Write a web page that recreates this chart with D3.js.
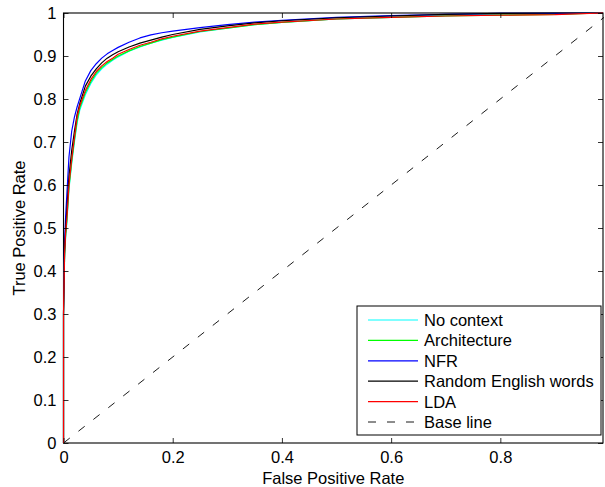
<!DOCTYPE html>
<html>
<head>
<meta charset="utf-8">
<script src="https://cdn.jsdelivr.net/npm/d3@7"></script>
<style>
  html, body { margin: 0; padding: 0; background: #fff; }
  svg { display: block; font-family: "Liberation Sans", Arial, Helvetica, sans-serif; }
</style>
</head>
<body>
<svg id="chart" width="605" height="487"></svg>
<script>
// ROC curves: shared false-positive-rate grid and true-positive rate per model
const fpr = [0, 0, 0.002, 0.004, 0.006, 0.008, 0.01, 0.015, 0.02, 0.025, 0.03, 0.04, 0.05, 0.06, 0.07,
             0.08, 0.09, 0.1, 0.12, 0.14, 0.16, 0.18, 0.2, 0.25, 0.3, 0.35, 0.4, 0.5, 0.6, 0.7, 0.8, 0.9, 0.988];

const tprNoContext = [0, 0.3, 0.43, 0.48, 0.51, 0.55, 0.59, 0.65, 0.70, 0.745, 0.775, 0.81, 0.836, 0.856, 0.87,
                      0.881, 0.89, 0.898, 0.911, 0.921, 0.93, 0.937, 0.943, 0.956, 0.965, 0.973, 0.978, 0.986, 0.99, 0.994, 0.996, 0.998, 1];
const tprArchitecture = [0, 0.3, 0.44, 0.485, 0.515, 0.555, 0.595, 0.655, 0.705, 0.75, 0.78, 0.815, 0.84, 0.86, 0.873,
                      0.884, 0.892, 0.9, 0.912, 0.922, 0.93, 0.938, 0.944, 0.957, 0.965, 0.973, 0.978, 0.986, 0.99, 0.993, 0.995, 0.997, 1];
const tprNFR = [0, 0.3, 0.47, 0.53, 0.575, 0.62, 0.665, 0.725, 0.758, 0.782, 0.802, 0.842, 0.866, 0.882, 0.895,
                      0.905, 0.913, 0.92, 0.932, 0.942, 0.949, 0.954, 0.958, 0.966, 0.973, 0.979, 0.983, 0.99, 0.994, 0.997, 0.999, 0.999, 1];
const tprRandomWords = [0, 0.3, 0.45, 0.5, 0.54, 0.58, 0.62, 0.68, 0.725, 0.765, 0.79, 0.83, 0.853, 0.87, 0.884,
                      0.895, 0.903, 0.91, 0.921, 0.93, 0.937, 0.944, 0.95, 0.962, 0.97, 0.977, 0.982, 0.989, 0.993, 0.997, 0.999, 1, 1];
const tprLDA = [0, 0.3, 0.44, 0.49, 0.52, 0.56, 0.6, 0.66, 0.71, 0.76, 0.785, 0.82, 0.845, 0.864, 0.877,
                      0.887, 0.895, 0.904, 0.915, 0.925, 0.932, 0.94, 0.946, 0.958, 0.966, 0.974, 0.979, 0.986, 0.99, 0.993, 0.995, 0.996, 1];

const seriesNames = ["No context", "Architecture", "NFR", "Random English words", "LDA"];
const seriesColors = ["#00ffff", "#00ff00", "#0000ff", "#000000", "#ff0000"];
const seriesValues = [tprNoContext, tprArchitecture, tprNFR, tprRandomWords, tprLDA];

const baselineX = [0, 1];
const baselineY = [0, 1];
const baselineName = "Base line";

const xTicks = [0, 0.2, 0.4, 0.6, 0.8];
const yTicks = [0, 0.1, 0.2, 0.3, 0.4, 0.5, 0.6, 0.7, 0.8, 0.9, 1];
const xMax = 0.988;

// layout
const plotLeft = 63.5, plotRight = 603, plotTop = 13, plotBottom = 443;
const svg = d3.select("#chart");
const x = d3.scaleLinear().domain([0, xMax]).range([plotLeft, plotRight]);
const y = d3.scaleLinear().domain([0, 1]).range([plotBottom, plotTop]);
const fontSize = 16.5;
const fmt = d => String(d);

svg.append("defs").append("clipPath").attr("id", "plot-clip")
  .append("rect").attr("x", plotLeft - 1).attr("y", plotTop - 1)
  .attr("width", plotRight - plotLeft + 2).attr("height", plotBottom - plotTop + 2);

// plot frame (drawn first so the curves sit on top of it)
svg.append("rect").attr("x", plotLeft).attr("y", plotTop)
  .attr("width", plotRight - plotLeft).attr("height", plotBottom - plotTop)
  .attr("fill", "none").attr("stroke", "#000").attr("stroke-width", 1.1);

const plot = svg.append("g").attr("clip-path", "url(#plot-clip)");

// diagonal reference line
plot.append("path")
  .datum(baselineX.map((v, i) => [v, baselineY[i]]))
  .attr("d", d3.line().x(d => x(d[0])).y(d => y(d[1])))
  .attr("fill", "none").attr("stroke", "#000").attr("stroke-width", 0.9)
  .attr("stroke-dasharray", "8,11");

// ROC curves
const line = d3.line().x(d => x(d[0])).y(d => y(d[1]));
seriesValues.forEach((vals, i) => {
  plot.append("path")
    .datum(fpr.map((f, j) => [f, vals[j]]))
    .attr("d", line)
    .attr("fill", "none")
    .attr("stroke", seriesColors[i])
    .attr("stroke-width", 1.2)
    .attr("stroke-linejoin", "round");
});

// axes with inward ticks on all four sides
const tickLen = 5;
const axB = svg.append("g").attr("transform", `translate(0,${plotBottom})`)
  .call(d3.axisBottom(x).tickValues(xTicks).tickSizeInner(-tickLen).tickSizeOuter(0).tickPadding(8).tickFormat(fmt));
const axT = svg.append("g").attr("transform", `translate(0,${plotTop})`)
  .call(d3.axisTop(x).tickValues(xTicks).tickSizeInner(-tickLen).tickSizeOuter(0).tickFormat(""));
const axL = svg.append("g").attr("transform", `translate(${plotLeft},0)`)
  .call(d3.axisLeft(y).tickValues(yTicks).tickSizeInner(-tickLen).tickSizeOuter(0).tickPadding(7).tickFormat(fmt));
const axR = svg.append("g").attr("transform", `translate(${plotRight},0)`)
  .call(d3.axisRight(y).tickValues(yTicks).tickSizeInner(-tickLen).tickSizeOuter(0).tickFormat(""));

[axB, axT, axL, axR].forEach(g => {
  g.select(".domain").remove();
  g.selectAll(".tick line").attr("stroke", "#000").attr("stroke-width", 0.8);
  g.selectAll("text").attr("font-size", fontSize).attr("fill", "#000")
    .attr("font-family", "'Liberation Sans', Arial, sans-serif");
});
axB.selectAll("text").attr("dy", "0.71em");
axL.selectAll("text").attr("dy", "0.36em");

// axis titles
svg.append("text").attr("x", (plotLeft + plotRight) / 2).attr("y", 484)
  .attr("text-anchor", "middle").attr("font-size", fontSize).text("False Positive Rate");
svg.append("text").attr("transform", `translate(25,${(plotTop + plotBottom) / 2}) rotate(-90)`)
  .attr("text-anchor", "middle").attr("font-size", fontSize).text("True Positive Rate");

// legend
const legX = 357, legY = 306, legW = 244, legH = 129;
const leg = svg.append("g");
leg.append("rect").attr("x", legX).attr("y", legY).attr("width", legW).attr("height", legH)
  .attr("fill", "#fff").attr("stroke", "#000").attr("stroke-width", 1);
const legendItems = seriesNames.map((n, i) => ({ name: n, color: seriesColors[i], dash: null }))
  .concat([{ name: baselineName, color: "#000", dash: "8,11" }]);
const rowH = 20.4, firstRow = legY + 14;
legendItems.forEach((it, i) => {
  const cy = firstRow + i * rowH;
  leg.append("line").attr("x1", legX + 11).attr("x2", legX + 61).attr("y1", cy).attr("y2", cy)
    .attr("stroke", it.color).attr("stroke-width", it.dash ? 0.9 : 1.2)
    .attr("stroke-dasharray", it.dash);
  leg.append("text").attr("x", legX + 67).attr("y", cy).attr("dy", "0.36em")
    .attr("font-size", fontSize).text(it.name);
});
</script>
</body>
</html>
